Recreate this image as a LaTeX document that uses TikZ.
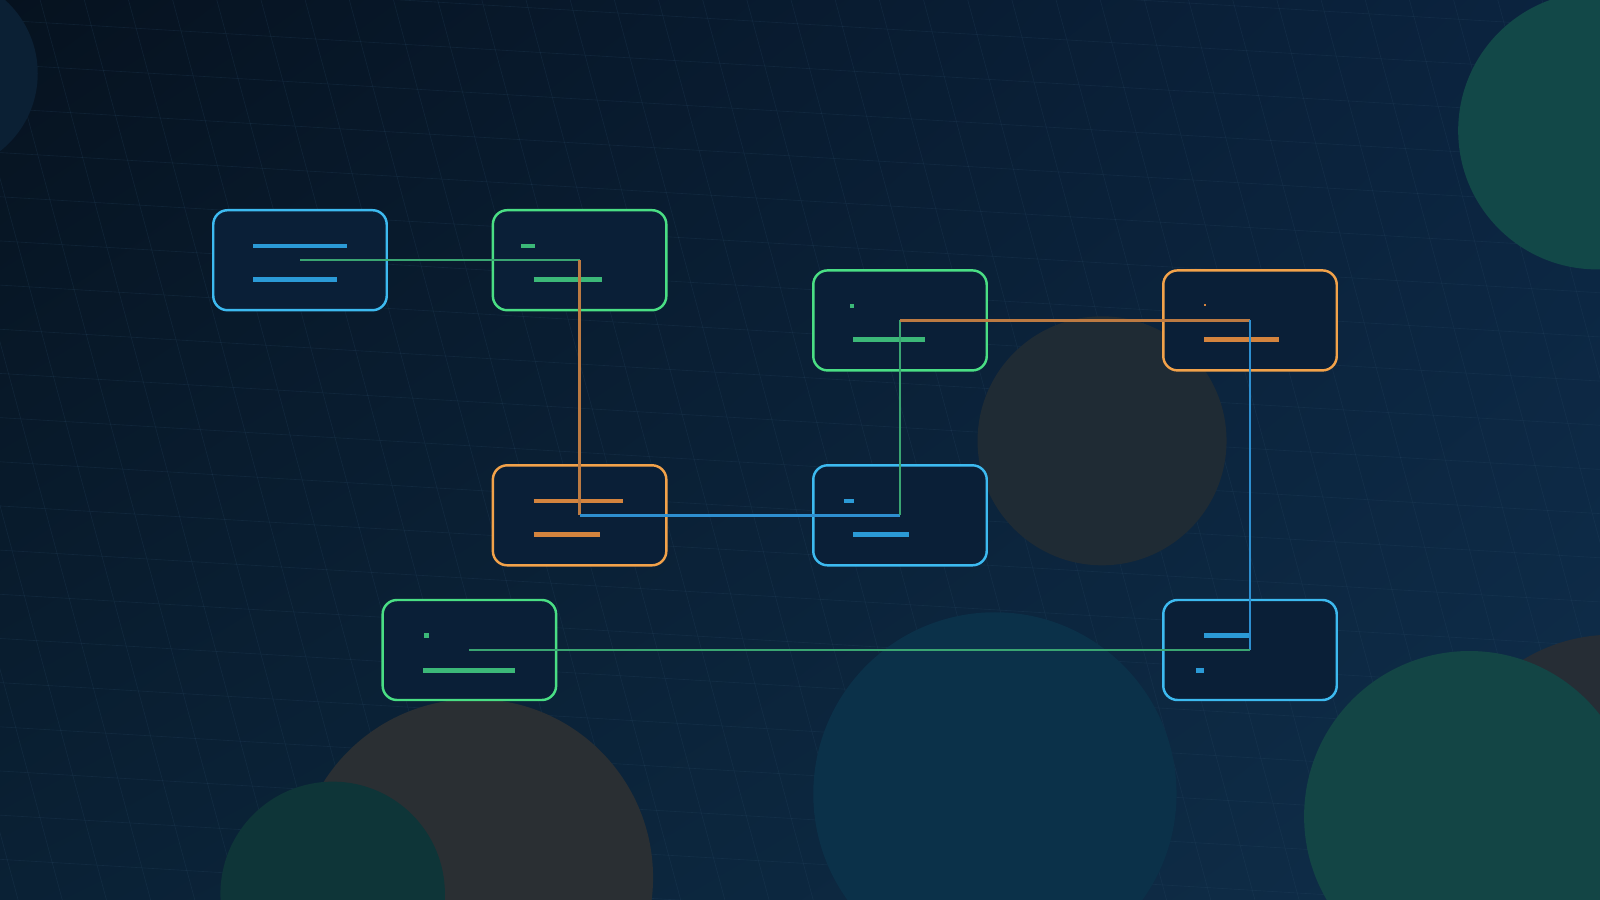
\documentclass[tikz,border=0pt]{standalone}
\usetikzlibrary{positioning, shadings}

\definecolor{bgtl}{HTML}{06121F}
\definecolor{bgtr}{HTML}{0B2440}
\definecolor{bgbl}{HTML}{0A2135}
\definecolor{bgbr}{HTML}{0F2E4A}
\definecolor{gridcol}{HTML}{2A4A66}
\definecolor{cardfill}{HTML}{0A1F37}
\definecolor{edgeblue}{HTML}{3DBAF0}
\definecolor{edgegreen}{HTML}{4ADE84}
\definecolor{edgeorange}{HTML}{F2A24A}
\definecolor{barblue}{HTML}{2B9AD6}
\definecolor{bargreen}{HTML}{3CB878}
\definecolor{barorange}{HTML}{D4843E}
\definecolor{linkblue}{HTML}{2E8FD0}
\definecolor{linkgreen}{HTML}{3AA572}
\definecolor{linkorange}{HTML}{BC7A42}

\tikzstyle{card} = [draw, rounded corners=14pt, line width=2.4pt, fill=cardfill, minimum width=170pt, minimum height=98pt, inner sep=0pt]
\tikzstyle{bar} = [line width=4.5pt]
\tikzstyle{link} = [line width=2.4pt]
\tikzstyle{gridline} = [draw=gridcol, line width=0.6pt, opacity=0.25]
\tikzstyle{blob} = [opacity=1]

\begin{document}
\begin{tikzpicture}[x=1pt, y=-1pt]
			\useasboundingbox (0,0) rectangle (1568,882);
			% background and grid
			\shade[upper left=bgtl, upper right=bgtr, lower left=bgbl, lower right=bgbr] (0,0) rectangle (1568,882);
			\begin{scope}
				\clip (0,0) rectangle (1568,882);
				\begin{scope}[cm={1,-0.06,-0.27,1,(0,0)}]
					\foreach \x in {-400,-356,...,2000} \draw[gridline] (\x,-200) -- (\x,1100);
					\foreach \y in {-200,-156,...,1100} \draw[gridline] (-400,\y) -- (2000,\y);
				\end{scope}
				% circles
				\fill[blob, fill={rgb,255:red,11;green,32;blue,52}] (-60,72) circle[radius=97];
				\fill[blob, fill={rgb,255:red,18;green,72;blue,72}] (1565,128) circle[radius=136];
				\fill[blob, fill={rgb,255:red,31;green,43;blue,52}] (1080,432) circle[radius=122];
				\fill[blob, fill={rgb,255:red,11;green,49;blue,73}] (975,778) circle[radius=178];
				\fill[blob, fill={rgb,255:red,42;green,47;blue,51}] (465,860) circle[radius=175];
				\fill[blob, fill={rgb,255:red,14;green,53;blue,56}] (326,876) circle[radius=110];
				\fill[blob, fill={rgb,255:red,38;green,45;blue,53}] (1580,790) circle[radius=168];
				\fill[blob, fill={rgb,255:red,19;green,69;blue,69}] (1440,800) circle[radius=162];
			\end{scope}
			
			% cards
			\node[card, draw=edgeblue]                              (blue top)      at (294,255) {};
			\node[card, draw=edgegreen, right=101.6pt of blue top]   (green top)     {};
			\node[card, draw=edgeorange, below=149.6pt of green top] (orange mid)    {};
			\node[card, draw=edgeblue, right=141.6pt of orange mid]  (blue mid)      {};
			\node[card, draw=edgegreen, above=90.6pt of blue mid]    (green right)   {};
			\node[card, draw=edgeorange, right=170.6pt of green right] (orange right) {};
			\node[card, draw=edgeblue, below=222.6pt of orange right] (blue bottom)  {};
			\node[card, draw=edgegreen]                             (green bottom)  at (460,637) {};
			
			% bars
			\draw[bar, barblue] ([shift={(-46,-14)}]blue top.center) -- +(92,0);
			\draw[bar, barblue] ([shift={(-46,19)}]blue top.center) -- +(82,0);
			\draw[bar, bargreen] ([shift={(-57,-14)}]green top.center) -- +(13,0);
			\draw[bar, bargreen] ([shift={(-45,19)}]green top.center) -- +(67,0);
			\draw[bar, barorange] ([shift={(-45,-14)}]orange mid.center) -- +(88,0);
			\draw[bar, barorange] ([shift={(-45,19)}]orange mid.center) -- +(65,0);
			\draw[bar, barblue] ([shift={(-55,-14)}]blue mid.center) -- +(10,0);
			\draw[bar, barblue] ([shift={(-46,19)}]blue mid.center) -- +(55,0);
			\draw[bar, bargreen] ([shift={(-49,-14)}]green right.center) -- +(4,0);
			\draw[bar, bargreen] ([shift={(-46,19)}]green right.center) -- +(70,0);
			\draw[bar, barorange, line width=1.2pt] ([shift={(-45,-15)}]orange right.center) -- +(1.5,0);
			\draw[bar, barorange] ([shift={(-45,19)}]orange right.center) -- +(73,0);
			\draw[bar, barblue] ([shift={(-45,-14)}]blue bottom.center) -- +(45,0);
			\draw[bar, barblue] ([shift={(-53,20)}]blue bottom.center) -- +(8,0);
			\draw[bar, bargreen] ([shift={(-44,-14)}]green bottom.center) -- +(4,0);
			\draw[bar, bargreen] ([shift={(-45,20)}]green bottom.center) -- +(90,0);
			
			% links
			\draw[link, linkgreen]  (blue top.center)     -- (green top.center);
			\draw[link, linkorange] (green top.center)    -- (orange mid.center);
			\draw[link, linkblue]   (orange mid.center)   -- (blue mid.center);
			\draw[link, linkgreen]  (blue mid.center)     -- (green right.center);
			\draw[link, linkorange] (green right.center)  -- (orange right.center);
			\draw[link, linkblue]   (orange right.center) -- (blue bottom.center);
			\draw[link, linkgreen]  (blue bottom.center)  -- (green bottom.center);
			
		\end{tikzpicture}
\end{document}
